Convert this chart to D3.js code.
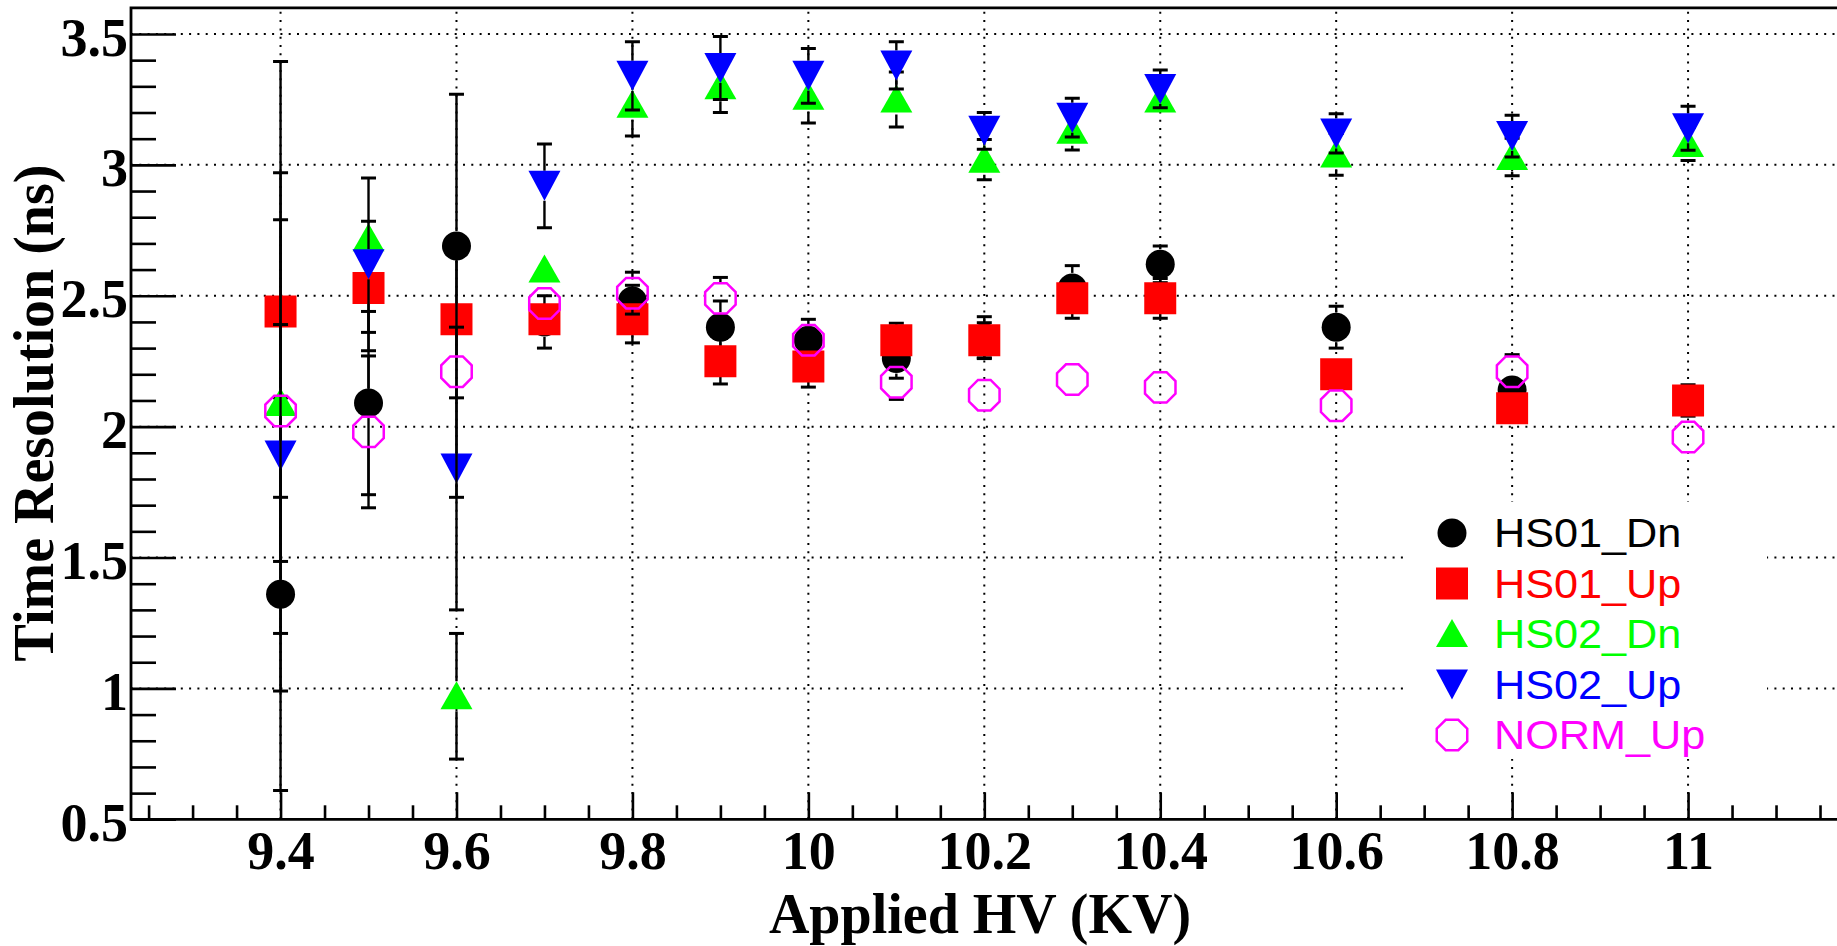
<!DOCTYPE html>
<html>
<head>
<meta charset="utf-8">
<script src="https://cdn.jsdelivr.net/npm/d3@7"></script>
<style>
  html, body { margin: 0; padding: 0; background: #fff; }
  svg { display: block; }
</style>
</head>
<body>
<div id="chart"></div>
<script>
// applied HV (kV) for every measured point
const hv = [9.4, 9.5, 9.6, 9.7, 9.8, 9.9, 10.0, 10.1, 10.2, 10.3, 10.4, 10.6, 10.8, 11.0];

// time resolution (ns) and its error, one pair of arrays per counter
const hs01Dn    = [1.36, 2.09, 2.69, 2.40, 2.48, 2.38, 2.33, 2.26, 2.34, 2.53, 2.62, 2.38, 2.14, 2.10];
const hs01DnErr = [0.75, 0.35, 0.58, 0.10, 0.06, 0.10, 0.08, 0.075, 0.08, 0.085, 0.07, 0.08, 0.05, 0.06];

const hs01Up    = [2.44, 2.53, 2.41, 2.41, 2.41, 2.25, 2.23, 2.33, 2.33, 2.49, 2.49, 2.20, 2.07, 2.10];
const hs01UpErr = [0.955, 0.17, 0.04, 0.035, 0.09, 0.087, 0.079, 0.065, 0.067, 0.076, 0.076, 0.05, 0.05, 0.05];

const hs02Dn    = [2.09, 2.72, 0.97, 2.60, 3.23, 3.30, 3.26, 3.25, 3.02, 3.13, 3.25, 3.04, 3.03, 3.08];
const hs02DnErr = [0.88, 0.065, 0.24, 0.04, 0.12, 0.10, 0.10, 0.105, 0.077, 0.073, 0.054, 0.08, 0.072, 0.063];

const hs02Up    = [1.89, 2.62, 1.84, 2.92, 3.34, 3.37, 3.34, 3.38, 3.13, 3.18, 3.29, 3.12, 3.11, 3.14];
const hs02UpErr = [0.90, 0.33, 0.54, 0.16, 0.13, 0.12, 0.105, 0.09, 0.07, 0.074, 0.072, 0.075, 0.08, 0.084];

const normUp    = [2.06, 1.98, 2.21, 2.47, 2.51, 2.49, 2.33, 2.17, 2.12, 2.18, 2.15, 2.08, 2.21, 1.96];
const normUpErr = [0.33, 0.29, 0.48, 0.05, 0.08, 0.08, 0.04, 0.066, 0.03, 0.03, 0.03, 0.03, 0.065, 0.03];

const seriesNames = ["HS01_Dn", "HS01_Up", "HS02_Dn", "HS02_Up", "NORM_Up"];

const xTicks = [9.4, 9.6, 9.8, 10.0, 10.2, 10.4, 10.6, 10.8, 11.0];
const xTickLabels = ["9.4", "9.6", "9.8", "10", "10.2", "10.4", "10.6", "10.8", "11"];
const yTicks = [0.5, 1, 1.5, 2, 2.5, 3, 3.5];
const yTickLabels = ["0.5", "1", "1.5", "2", "2.5", "3", "3.5"];

const xLabel = "Applied HV (KV)";
const yLabel = "Time Resolution (ns)";

const W = 1837, H = 946;
const serif = "'Liberation Serif', 'Times New Roman', serif";
const sans = "'Liberation Sans', Arial, Helvetica, sans-serif";

const svg = d3.select("#chart").append("svg")
  .attr("width", W)
  .attr("height", H);

svg.append("rect").attr("width", W).attr("height", H).attr("fill", "#fff");

// the frame runs past the right edge of the picture
const x = d3.scaleLinear().domain([9.23, 11.2]).range([131, 1864]);
const y = d3.scaleLinear().domain([0.5, 3.6]).range([819.3, 7.8]);
const [x0, x1] = x.range();
const [yb, yt] = y.range();

const series = [
  { name: seriesNames[0], values: hs01Dn, errors: hs01DnErr, color: "#000000", shape: "circle" },
  { name: seriesNames[1], values: hs01Up, errors: hs01UpErr, color: "#ff0000", shape: "square" },
  { name: seriesNames[2], values: hs02Dn, errors: hs02DnErr, color: "#00ff00", shape: "triUp" },
  { name: seriesNames[3], values: hs02Up, errors: hs02UpErr, color: "#0000ff", shape: "triDown" },
  { name: seriesNames[4], values: normUp, errors: normUpErr, color: "#ff00ff", shape: "octagon" }
];

// error bars stop at the marker edge, like ROOT does
const markerGap = 15;

function markerPath(shape) {
  if (shape === "circle") {
    const p = d3.path();
    p.arc(0, 0, 14.5, 0, 2 * Math.PI);
    return p.toString();
  }
  if (shape === "square") return "M-16,-16H16V16H-16Z";
  if (shape === "triUp") return "M0,-15L16,13L-16,13Z";
  if (shape === "triDown") return "M0,15L16,-15L-16,-15Z";
  // open octagon
  const pts = d3.range(8).map(i => {
    const a = Math.PI / 8 + i * Math.PI / 4;
    return [16.5 * Math.cos(a), 16.5 * Math.sin(a)];
  });
  return "M" + pts.map(p => p.join(",")).join("L") + "Z";
}

function styleMarker(sel, s) {
  if (s.shape === "octagon") {
    sel.attr("fill", "none").attr("stroke", s.color).attr("stroke-width", 2.5);
  } else {
    sel.attr("fill", s.color);
  }
}

// grid
const grid = svg.append("g")
  .attr("stroke", "#000")
  .attr("stroke-width", 2)
  .attr("stroke-dasharray", "2,6.3")
  .attr("fill", "none");

grid.selectAll("line.gx")
  .data(xTicks)
  .enter()
  .append("line")
  .attr("x1", d => x(d)).attr("x2", d => x(d))
  .attr("y1", yt + 4).attr("y2", yb);

grid.selectAll("line.gy")
  .data(yTicks.slice(1))
  .enter()
  .append("line")
  .attr("x1", x0).attr("x2", x1)
  .attr("y1", d => y(d)).attr("y2", d => y(d));

// axes (ticks point into the frame)
const yMinor = d3.range(6, 36).map(d => d / 10).filter(d => Math.abs(d * 2 - Math.round(d * 2)) > 1e-6);
const xMinor = d3.range(185, 224).map(d => d / 20).filter(d => Math.abs(d * 5 - Math.round(d * 5)) > 1e-6);

const yAxis = svg.append("g")
  .attr("transform", `translate(${x0},0)`)
  .call(d3.axisLeft(y).tickValues(yTicks).tickSize(-45).tickPadding(3)
    .tickFormat((d, i) => yTickLabels[i]));
yAxis.append("g").call(d3.axisLeft(y).tickValues(yMinor).tickSize(-25).tickFormat(""));

const xAxis = svg.append("g")
  .attr("transform", `translate(0,${yb})`)
  .call(d3.axisBottom(x).tickValues(xTicks).tickSize(-27).tickPadding(11)
    .tickFormat((d, i) => xTickLabels[i]));
xAxis.append("g").call(d3.axisBottom(x).tickValues(xMinor).tickSize(-14).tickFormat(""));

svg.selectAll(".domain").remove();
svg.selectAll(".tick line").attr("stroke", "#000").attr("stroke-width", 2.6);
yAxis.selectAll(".tick text")
  .attr("dy", "0.39em")
  .style("font-family", serif).style("font-weight", "bold").style("font-size", "54px")
  .attr("fill", "#000");
xAxis.selectAll(".tick text")
  .style("font-family", serif).style("font-weight", "bold").style("font-size", "54px")
  .attr("fill", "#000");

// frame
svg.append("path")
  .attr("d", `M${x1},${yt}H${x0}V${yb}H${x1}`)
  .attr("fill", "none")
  .attr("stroke", "#000")
  .attr("stroke-width", 2.8);

// data
svg.append("clipPath").attr("id", "plotclip")
  .append("rect").attr("x", x0).attr("y", yt).attr("width", x1 - x0).attr("height", yb - yt);

const plot = svg.append("g").attr("clip-path", "url(#plotclip)");

series.forEach(s => {
  const pts = hv.map((v, i) => ({ x: v, y: s.values[i], e: s.errors[i] }));
  // one half-bar above and one below each point
  const halves = [];
  pts.forEach(p => {
    const cx = x(p.x), cy = y(p.y);
    [y(p.y + p.e), y(p.y - p.e)].forEach(end => {
      const dir = end < cy ? -1 : 1;
      if (Math.abs(end - cy) > markerGap) halves.push({ cx, start: cy + dir * markerGap, end });
    });
  });

  const g = plot.append("g");
  const eb = g.selectAll("g.err")
    .data(halves)
    .enter()
    .append("g")
    .attr("stroke", "#000");

  eb.append("line")
    .attr("stroke-width", 2.4)
    .attr("x1", d => d.cx).attr("x2", d => d.cx)
    .attr("y1", d => d.start).attr("y2", d => d.end);
  eb.append("line")
    .attr("stroke-width", 3)
    .attr("x1", d => d.cx - 7.5).attr("x2", d => d.cx + 7.5)
    .attr("y1", d => d.end).attr("y2", d => d.end);

  g.selectAll("path.mk")
    .data(pts)
    .enter()
    .append("path")
    .attr("d", markerPath(s.shape))
    .attr("transform", d => `translate(${x(d.x)},${y(d.y)})`)
    .call(sel => styleMarker(sel, s));
});

// legend
const legend = svg.append("g");
legend.append("rect")
  .attr("x", 1406).attr("y", 502)
  .attr("width", 361).attr("height", 257)
  .attr("fill", "#fff");

series.forEach((s, i) => {
  const cy = 533 + i * 50.5;
  legend.append("path")
    .attr("d", markerPath(s.shape))
    .attr("transform", `translate(1452,${cy})`)
    .call(sel => styleMarker(sel, s));
  legend.append("text")
    .attr("transform", `translate(1494,${cy + 14}) scale(1.08,1)`)
    .style("font-family", sans)
    .style("font-size", "40px")
    .attr("fill", s.color)
    .text(s.name);
});

// axis titles
svg.append("text")
  .attr("x", 980)
  .attr("y", 933)
  .attr("text-anchor", "middle")
  .style("font-family", serif).style("font-weight", "bold").style("font-size", "56px")
  .text(xLabel);

svg.append("text")
  .attr("transform", "translate(53,413) rotate(-90)")
  .attr("text-anchor", "middle")
  .style("font-family", serif).style("font-weight", "bold").style("font-size", "56px")
  .text(yLabel);
</script>
</body>
</html>
